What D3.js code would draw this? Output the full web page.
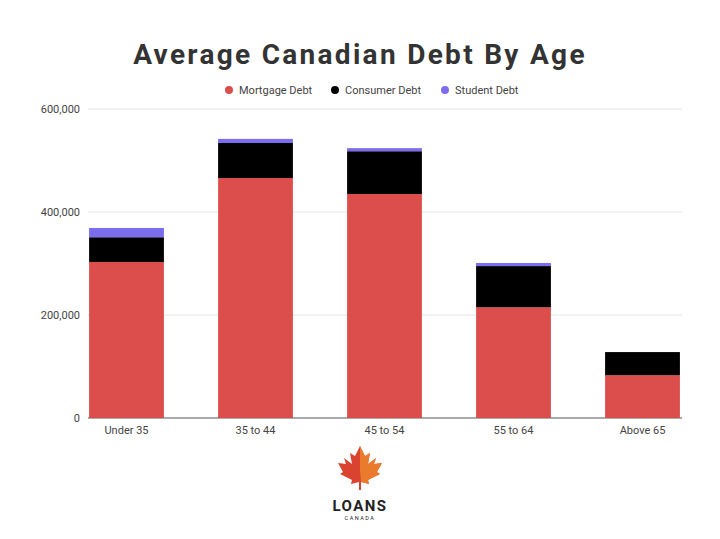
<!DOCTYPE html>
<html><head><meta charset="utf-8">
<script src="https://cdn.jsdelivr.net/npm/d3@7"></script>
<style>body{margin:0;background:#fff}</style></head>
<body><svg id="c" width="720" height="539"></svg>
<script>
const categories = ["Under 35","35 to 44","45 to 54","55 to 64","Above 65"];
const mortgage = [303000,466000,435000,215000,83000];
const consumer = [48000,68000,83000,80000,45000];
const student = [18000,8000,6000,6000,0];
const seriesNames = ["Mortgage Debt","Consumer Debt","Student Debt"];
const colors = ["#dc4e4b","#000000","#7b6cf0"];
const yTicks = [0,200000,400000,600000];

const svg = d3.select("#c");
svg.append("text").attr("x",360).attr("y",64).attr("text-anchor","middle")
  .attr("font-family","Roboto, sans-serif").attr("font-weight","bold").attr("font-size",28)
  .attr("letter-spacing",2.3).attr("fill","#333").text("Average Canadian Debt By Age");

const x = d3.scaleBand().domain(categories).range([62,707]).paddingInner(0.42).paddingOuter(0.21);
const y = d3.scaleLinear().domain([0,600000]).range([418,109]);

const g = svg.append("g");
g.selectAll("line.grid").data(yTicks).join("line").attr("x1",88).attr("x2",682)
  .attr("y1",d=>y(d)).attr("y2",d=>y(d)).attr("stroke",d=>d===0?"#555":"#e6e6e6").attr("stroke-width",1);
g.selectAll("text.yl").data(yTicks).join("text").attr("x",80).attr("y",d=>y(d)+4)
  .attr("text-anchor","end").attr("font-family","Roboto, sans-serif").attr("font-size",11).attr("fill","#444")
  .text(d=>d3.format(",")(d));

const data = categories.map((c,i)=>({cat:c,m:mortgage[i],c:consumer[i],s:student[i]}));
const stack = d3.stack().keys(["m","c","s"])(data);
stack.forEach((layer,k)=>{
  g.selectAll(null).data(layer).join("rect").attr("x",d=>x(d.data.cat)).attr("width",x.bandwidth())
   .attr("y",d=>y(d[1])).attr("height",d=>y(d[0])-y(d[1])).attr("fill",colors[k]);
});
const xa = svg.append("g").attr("transform","translate(0,418)").call(d3.axisBottom(x).tickSize(0).tickPadding(8));
xa.select(".domain").remove();
xa.selectAll("text").attr("font-family","Roboto, sans-serif").attr("font-size",11).attr("fill","#444");

const lx = [229,335,445];
seriesNames.forEach((n,i)=>{
  svg.append("circle").attr("cx",lx[i]).attr("cy",90).attr("r",4).attr("fill",colors[i]);
  svg.append("text").attr("x",lx[i]+10).attr("y",94).attr("font-family","Roboto, sans-serif")
    .attr("font-size",11).attr("fill","#444").text(n);
});

const leaf = svg.append("g").attr("transform","translate(360,470)");
leaf.append("path").attr("d","M0,-24 L5,-14 L10,-17 L8,-6 L16,-12 L14,-6 L22,-7 L17,2 L20,4 L8,10 L9,14 L1,12 L1,20 L-1,20 L-1,12 L-9,14 L-8,10 L-20,4 L-17,2 L-22,-7 L-14,-6 L-16,-12 L-8,-6 L-10,-17 L-5,-14 Z")
  .attr("fill","#d9432f");
leaf.append("path").attr("d","M0,-24 L5,-14 L10,-17 L8,-6 L16,-12 L14,-6 L22,-7 L17,2 L20,4 L8,10 L9,14 L1,12 L0,0 Z").attr("fill","#ef8a2c").attr("opacity",0.8);
svg.append("text").attr("x",360).attr("y",511).attr("text-anchor","middle").attr("font-family","Roboto, sans-serif")
  .attr("font-weight","bold").attr("font-size",15).attr("letter-spacing",1.5).attr("fill","#222").text("LOANS");
svg.append("text").attr("x",360).attr("y",520).attr("text-anchor","middle").attr("font-family","Roboto, sans-serif")
  .attr("font-size",5.5).attr("letter-spacing",1.5).attr("fill","#222").text("CANADA");
</script></body></html>
